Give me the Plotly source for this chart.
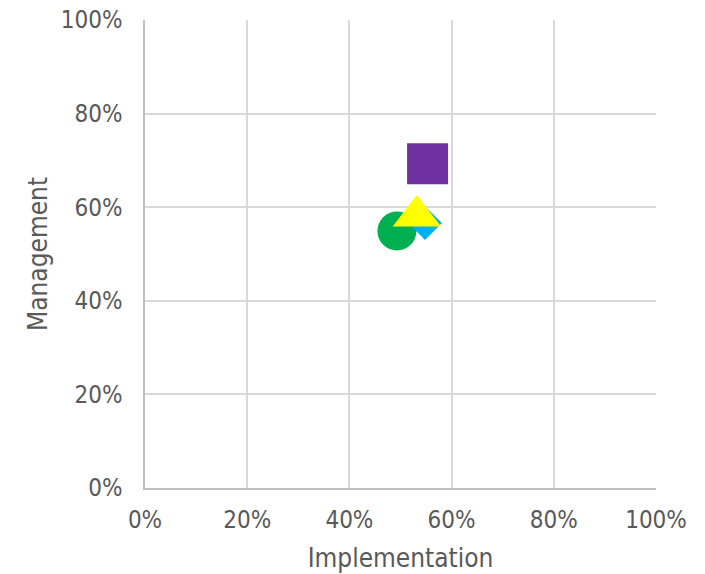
import plotly.graph_objects as go

series_names = ["Green", "Blue", "Yellow", "Purple"]
implementation = [0.493, 0.548, 0.532, 0.553]
management = [0.549, 0.566, 0.581, 0.693]
symbols = ["circle", "diamond", "triangle-up", "square"]
colors = ["#00B050", "#00B0F0", "#FFFF00", "#7030A0"]
sizes = [39, 26, 42, 41]

tick_vals = [0, 0.2, 0.4, 0.6, 0.8, 1.0]
tick_text = ["0%", "20%", "40%", "60%", "80%", "100%"]

fig = go.Figure()
for name, x, y, s, c, sz in zip(series_names, implementation, management, symbols, colors, sizes):
    fig.add_trace(go.Scatter(
        x=[x], y=[y], mode="markers", name=name,
        marker=dict(symbol=s, color=c, size=sz, line=dict(width=0)),
        showlegend=False,
    ))

font_color = "#595959"
grid_color = "#D9D9D9"
axis_color = "#BFBFBF"
font_family = "DejaVu Sans Condensed, DejaVu Sans"
fig.update_layout(
    width=705, height=574,
    margin=dict(l=145, r=49, t=20, b=85.5, autoexpand=False),
    paper_bgcolor="white", plot_bgcolor="white",
    font=dict(family=font_family, color=font_color, size=24),
    xaxis=dict(
        range=[0, 1], tickvals=tick_vals, ticktext=tick_text,
        showgrid=True, gridcolor=grid_color, gridwidth=1.5,
        showline=True, linecolor=axis_color, linewidth=1.5,
        zeroline=False, ticks="outside", ticklen=9, tickcolor="rgba(0,0,0,0)",
        tickfont=dict(family=font_family, size=24, color=font_color),
        title=dict(text="Implementation", font=dict(family=font_family, size=26, color=font_color), standoff=16),
        automargin=False,
    ),
    yaxis=dict(
        range=[0, 1], tickvals=tick_vals, ticktext=tick_text,
        showgrid=True, gridcolor=grid_color, gridwidth=1.5,
        showline=True, linecolor=axis_color, linewidth=1.5,
        zeroline=False, ticks="outside", ticklen=16, tickcolor="rgba(0,0,0,0)",
        tickfont=dict(family=font_family, size=24, color=font_color),
        title=dict(text="Management", font=dict(family=font_family, size=26, color=font_color), standoff=6),
        automargin=False,
    ),
)

fig.write_html("out.html")
